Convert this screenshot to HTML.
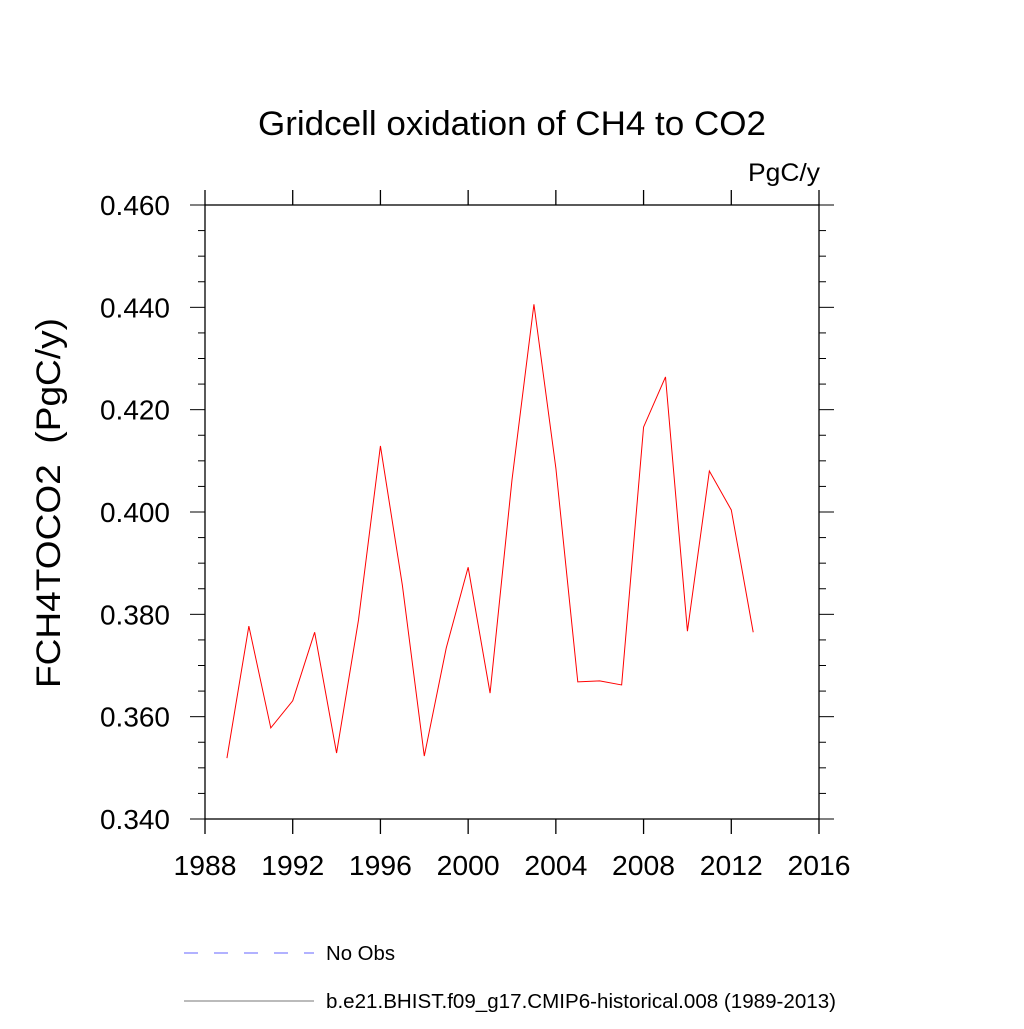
<!DOCTYPE html>
<html><head><meta charset="utf-8"><style>body{margin:0;background:#fff}svg text{font-family:"Liberation Sans",sans-serif;white-space:pre}</style></head>
<body>
<svg id="c" width="1024" height="1024" viewBox="0 0 1024 1024">
<text x="512" y="135" font-size="34" text-anchor="middle" textLength="508" lengthAdjust="spacingAndGlyphs">Gridcell oxidation of CH4 to CO2</text>
<text x="820" y="181" font-size="25" text-anchor="end" textLength="72" lengthAdjust="spacingAndGlyphs">PgC/y</text>
<text transform="translate(60,503) rotate(-90)" font-size="34" text-anchor="middle" textLength="370" lengthAdjust="spacingAndGlyphs">FCH4TOCO2  (PgC/y)</text>
<g id="axes"></g>
<g id="plot"></g>
<line x1="184" y1="953" x2="314" y2="953" stroke="#66f" stroke-width="1" stroke-dasharray="14,16"/>
<text x="326" y="960" font-size="20" textLength="69" lengthAdjust="spacingAndGlyphs">No Obs</text>
<line x1="184" y1="1001" x2="314" y2="1001" stroke="#777" stroke-width="1"/>
<text x="326" y="1008" font-size="20" textLength="510" lengthAdjust="spacingAndGlyphs">b.e21.BHIST.f09_g17.CMIP6-historical.008 (1989-2013)</text>
</svg>
<script>
const years=[1989,1990,1991,1992,1993,1994,1995,1996,1997,1998,1999,2000,2001,2002,2003,2004,2005,2006,2007,2008,2009,2010,2011,2012,2013];
const values=[0.3519,0.3777,0.3578,0.3631,0.3765,0.3529,0.3789,0.4129,0.3857,0.3523,0.3734,0.3892,0.3646,0.4063,0.4406,0.4086,0.3668,0.3670,0.3662,0.4166,0.4264,0.3767,0.4080,0.4004,0.3765];
const xTicks=[1988,1992,1996,2000,2004,2008,2012,2016];
const yTicks=[0.340,0.360,0.380,0.400,0.420,0.440,0.460];
const L=205,R=819,T=205,B=819;
const xs=v=>L+(v-1988)/28*(R-L);
const ys=v=>B-(v-0.34)/0.12*(B-T);
const NS="http://www.w3.org/2000/svg";
const ax=document.getElementById('axes'),pl=document.getElementById('plot');
function mk(tag,at,par){const e=document.createElementNS(NS,tag);for(const k in at)e.setAttribute(k,at[k]);par.appendChild(e);return e;}
const fr=mk('rect',{x:L,y:T,width:R-L,height:B-T,fill:'none',stroke:'#000','stroke-width':1.3},ax);


xTicks.forEach(t=>{const x=xs(t);
 mk('line',{x1:x,y1:B,x2:x,y2:B+15,stroke:'#000','stroke-width':1.3},ax);
 mk('line',{x1:x,y1:T,x2:x,y2:T-15,stroke:'#000','stroke-width':1.3},ax);
 const tx=mk('text',{x:x,y:B+56,'font-size':28,'text-anchor':'middle',textLength:63,lengthAdjust:'spacingAndGlyphs'},ax);tx.textContent=t;
 
 
});
for(let i=0;i<=24;i++){const v=0.340+i*0.005;const y=ys(v);const len=(i%4===0)?15:7;
 mk('line',{x1:L,y1:y,x2:L-len,y2:y,stroke:'#000','stroke-width':1},ax);
 mk('line',{x1:R,y1:y,x2:R+len,y2:y,stroke:'#000','stroke-width':1},ax);}
yTicks.forEach(t=>{const tx=mk('text',{x:170,y:ys(t)+10,'font-size':28,'text-anchor':'end',textLength:70,lengthAdjust:'spacingAndGlyphs'},ax);tx.textContent=t.toFixed(3);
 
 });
const ln=mk('polyline',{points:years.map((y,i)=>xs(y)+','+ys(values[i])).join(' '),fill:'none',stroke:'#f00','stroke-width':1},pl);


</script>
</body></html>
